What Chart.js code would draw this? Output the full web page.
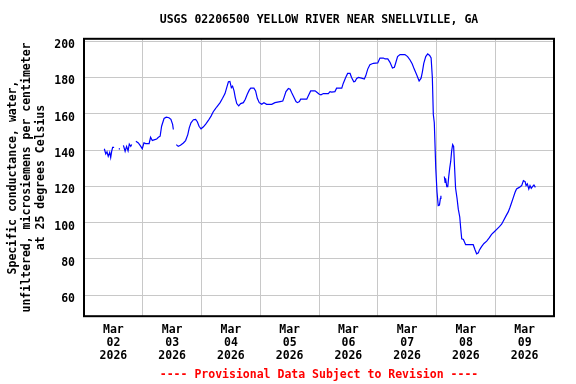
<!DOCTYPE html>
<html>
<head>
<meta charset="utf-8">
<script src="https://cdn.jsdelivr.net/npm/chart.js@4"></script>
<style>
  body { margin: 0; background: #fff; }
</style>
</head>
<body>
<canvas id="grafico" width="576" height="384"></canvas>
<script>
// hours since Mar 02 00:00, and specific conductance (null = data gap)
const horas = [
  8.3, 8.9, 9.4, 9.9, 10.5, 10.9, 11.3, 11.7, 12.3, 13.3,
  14.2, 14.7, 15.3,
  16.1, 16.8, 17.4, 18.0, 18.5, 19.1, 19.5, 20.3,
  21.2, 22.2, 23.2, 23.8, 24.5, 25.2, 26.6, 27.2, 27.9, 28.6,
  29.7, 30.4, 31.1, 31.7, 32.7, 33.6, 34.7, 35.5, 36.2, 36.5, 37.1,
  37.7, 38.5, 39.4, 40.6, 41.5, 42.4, 43.0, 43.7, 44.7, 45.6,
  46.3, 47.0, 47.8, 48.8, 49.8, 50.8, 51.9, 52.8, 53.5, 54.2,
  55.6, 56.6, 57.6, 58.3, 59.0, 59.6, 60.2, 60.7, 61.3, 61.8,
  62.4, 63.2, 64.0, 65.1, 65.9, 66.7, 67.5, 68.1, 69.4, 70.1,
  70.8, 71.6, 72.6, 73.5, 74.6, 76.7, 78.0, 80.1, 81.2, 81.7,
  82.5, 83.5, 84.2, 84.8, 85.5, 86.6, 87.2, 88.0, 88.5, 91.0,
  91.6, 92.6, 94.4, 95.0, 96.1, 96.8, 97.8, 99.8, 100.5, 101.2,
  102.5, 103.2, 105.3, 105.9, 106.9, 107.7, 108.7, 109.3, 110.2, 110.7,
  111.4, 112.1, 113.4, 114.5, 115.1, 115.9, 116.8, 118.2, 120.0, 120.9,
  122.3, 123.0, 124.1, 125.0, 126.0, 126.8, 127.3, 128.1, 129.1, 131.1,
  132.2, 133.2, 134.1, 134.9, 135.9, 136.9, 137.7, 138.2, 138.8, 139.6,
  140.4, 141.2, 141.8, 142.3, 142.7, 143.1, 143.7, 144.2, 144.7, 145.2,
  145.6, 145.8, 146.5,
  147.2, 147.5, 147.7, 148.2, 148.6, 149.0, 149.4, 149.8, 150.2, 150.6,
  151.0, 151.4, 151.8, 152.4, 152.9, 153.5, 153.9, 154.3, 155.0, 155.9,
  159.0, 159.7, 160.4, 161.1, 161.5, 162.4, 163.4, 164.5, 165.6, 166.5,
  167.5, 168.6, 169.7, 170.6, 171.3, 172.4, 173.3, 174.0, 174.7, 175.4,
  176.1, 176.7, 177.8, 178.8, 179.5, 180.2, 180.6, 181.1, 181.7, 182.2,
  182.7, 183.3, 183.8, 184.4
];

const condutancia = [
  140.7, 137.8, 139.0, 136.5, 138.7, 135.9, 139.3, 141.5, 141.5, null,
  140.6, 140.6, null,
  142.6, 139.3, 142.0, 139.6, 143.3, 142.0, 143.0, null,
  144.8, 143.9, 142.0, 140.7, 143.9, 143.5, 143.5, 147.0, 145.2, 145.6,
  146.1, 147.0, 147.6, 153.1, 157.4, 158.1, 157.8, 156.9, 154.1, 151.3, null,
  143.0, 142.0, 142.6, 143.9, 145.2, 148.5, 152.2, 155.0, 156.7, 156.9,
  155.6, 153.1, 151.7, 152.8, 154.4, 156.3, 158.7, 161.1, 162.4, 163.7,
  166.1, 168.5, 171.1, 174.4, 177.6, 177.8, 174.4, 175.2, 172.6, 168.9,
  165.6, 164.3, 165.6, 166.1, 168.0, 170.7, 173.0, 174.1, 174.1, 172.6,
  168.5, 166.1, 165.2, 166.1, 165.2, 165.2, 166.1, 166.7, 167.0, 168.9,
  172.2, 173.9, 173.5, 171.7, 169.8, 166.7, 166.1, 166.7, 168.0, 168.0,
  169.8, 172.6, 172.6, 172.0, 170.7, 170.4, 171.1, 171.1, 172.2, 171.9,
  172.2, 174.1, 174.1, 176.7, 180.0, 182.2, 182.2, 180.0, 177.6, 177.8,
  179.4, 180.0, 179.6, 179.1, 180.9, 184.6, 187.0, 187.8, 188.0, 190.7,
  190.7, 190.2, 190.2, 188.3, 185.2, 185.6, 187.8, 191.5, 192.6, 192.6,
  191.5, 189.6, 187.4, 184.6, 181.5, 178.1, 179.6, 182.8, 187.8, 191.5,
  193.0, 192.1, 190.7, 180.0, 159.6, 155.0, 130.0, 117.0, 109.3, 109.6,
  113.3, 114.8, null,
  125.4, 122.2, 124.4, 119.8, 119.8, 125.4, 130.0, 133.7, 139.6, 143.0,
  142.0, 130.0, 118.9, 113.3, 107.4, 103.1, 96.7, 91.1, 90.7, 87.8,
  87.8, 85.2, 82.8, 83.3, 84.8, 86.7, 88.5, 89.8, 91.7, 93.5,
  94.8, 96.3, 97.8, 99.1, 100.9, 103.7, 105.9, 108.3, 111.1, 113.9,
  116.7, 118.5, 119.4, 120.4, 123.1, 122.6, 120.4, 121.3, 118.5, 120.4,
  118.9, 120.0, 120.7, 119.4
];

const dias = ['02', '03', '04', '05', '06', '07', '08', '09'];
const mes = 'Mar';
const ano = '2026';
const ticksY = [60, 80, 100, 120, 140, 160, 180, 200];

const fonte = { family: '"DejaVu Sans Mono", monospace', size: 11.5, weight: 'bold' };

const pontos = horas.map((h, i) => ({ x: h, y: condutancia[i] }));

// ticks every 12 h: midnight = grid line, noon = date label
const ticksX = [];
for (let h = 0; h <= dias.length * 24; h += 12) ticksX.push(h);

const moldura = {
  id: 'moldura',
  afterDatasetsDraw(chart) {
    const a = chart.chartArea;
    const ctx = chart.ctx;
    ctx.save();
    ctx.strokeStyle = '#000';
    ctx.lineWidth = 2;
    ctx.strokeRect(a.left, a.top, a.right - a.left, a.bottom - a.top);
    ctx.restore();
  }
};

Chart.defaults.color = '#000';

new Chart(document.getElementById('grafico'), {
  type: 'line',
  data: {
    datasets: [{
      data: pontos,
      borderColor: '#0000ff',
      borderWidth: 1.2,
      pointRadius: 0,
      tension: 0,
      spanGaps: false
    }]
  },
  options: {
    responsive: false,
    animation: false,
    layout: { padding: { left: 0, right: 22, top: 0, bottom: 0 } },
    plugins: {
      legend: { display: false },
      tooltip: { enabled: false },
      title: {
        display: true,
        fullSize: false,
        text: 'USGS 02206500 YELLOW RIVER NEAR SNELLVILLE, GA',
        font: fonte,
        color: '#000',
        padding: { top: 13, bottom: 12 }
      },
      subtitle: {
        display: true,
        fullSize: false,
        position: 'bottom',
        text: '---- Provisional Data Subject to Revision ----',
        font: fonte,
        color: '#ff0000',
        padding: { top: 0, bottom: 2 }
      }
    },
    scales: {
      x: {
        type: 'linear',
        min: 0,
        max: dias.length * 24,
        afterBuildTicks: axis => { axis.ticks = ticksX.map(v => ({ value: v })); },
        afterFit: axis => { axis.height = 52; },
        grid: {
          color: c => (c.tick && c.tick.value % 24 === 0) ? '#c8c8c8' : 'rgba(0,0,0,0)',
          lineWidth: 1,
          drawTicks: false
        },
        border: { display: false },
        ticks: {
          autoSkip: false,
          maxRotation: 0,
          padding: 7,
          font: { ...fonte, lineHeight: 1.13 },
          callback: v => (v % 24 === 12) ? [mes, dias[(v - 12) / 24], ano] : ''
        }
      },
      y: {
        min: 48.4,
        max: 201.3,
        afterBuildTicks: axis => { axis.ticks = ticksY.map(v => ({ value: v })); },
        afterFit: axis => { axis.width = 84; },
        grid: { color: '#c8c8c8', lineWidth: 1, drawTicks: false },
        border: { display: false },
        ticks: { padding: 9, labelOffset: 4, font: fonte },
        title: {
          display: true,
          text: ['Specific conductance, water,', 'unfiltered, microsiemens per centimeter', 'at 25 degrees Celsius'],
          font: { ...fonte, lineHeight: 1.22 },
          padding: { top: 6, bottom: 0 }
        }
      }
    }
  },
  plugins: [moldura]
});
</script>
</body>
</html>
